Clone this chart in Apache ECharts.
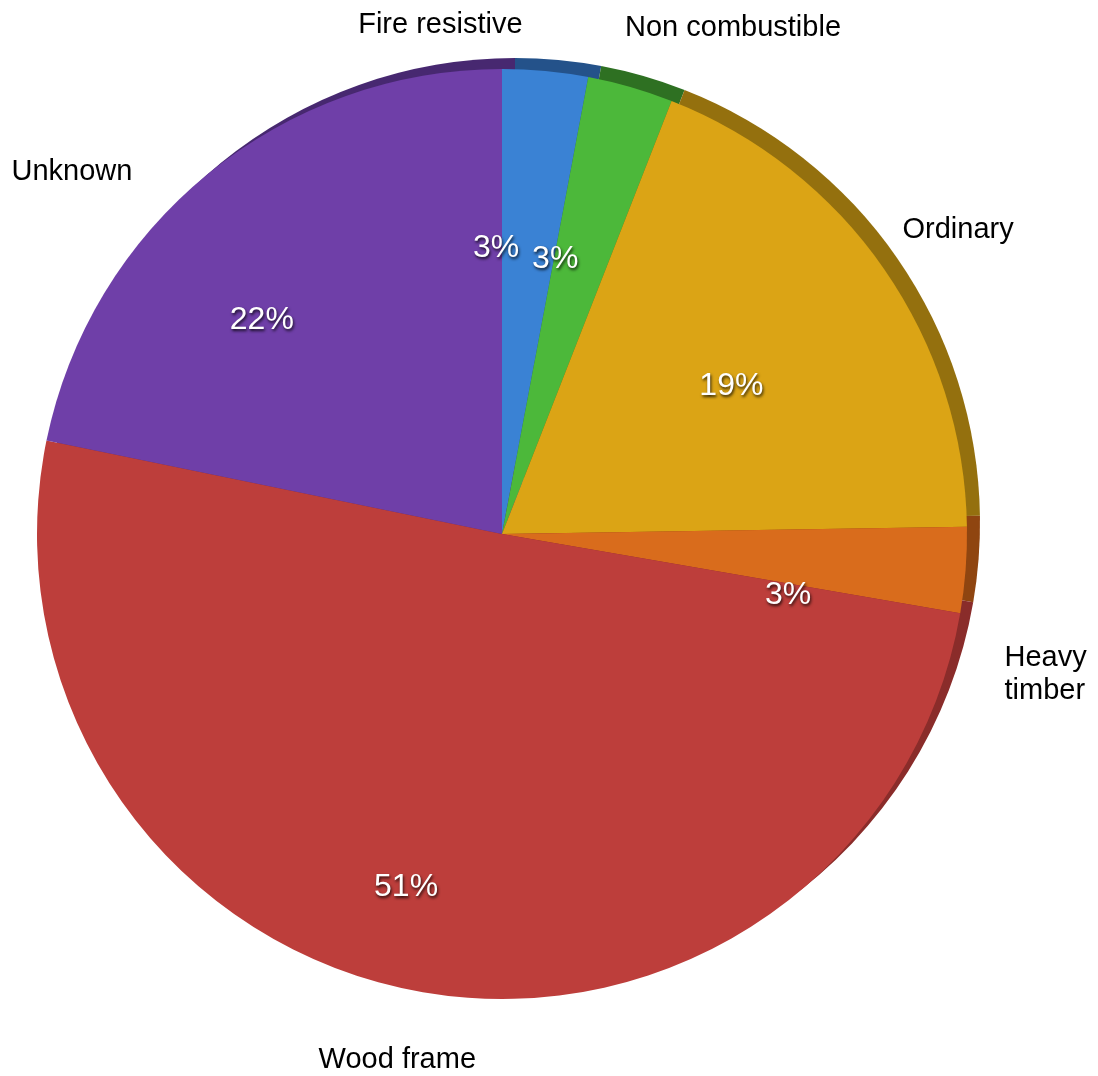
<!DOCTYPE html>
<html><head><meta charset="utf-8">
<script src="https://cdn.jsdelivr.net/npm/echarts@6/dist/echarts.min.js"></script>
<style>html,body{margin:0;padding:0;background:#fff}#c{width:1098px;height:1076px}</style>
</head><body><div id="c"></div>
<script>
const categories = ['Fire resistive', 'Non combustible', 'Ordinary', 'Heavy timber', 'Wood frame', 'Unknown'];
const labelTexts = ['Fire resistive', 'Non combustible', 'Ordinary', 'Heavy\ntimber', 'Wood frame', 'Unknown'];
const percents = [3, 3, 19, 3, 51, 22];
const faceColors = ['#3a82d4', '#4cb83a', '#dba415', '#d96c1c', '#bd3e3b', '#6f3fa8'];
const rimColors = ['#24528a', '#2e7022', '#94700e', '#8f4510', '#8a2c2a', '#472870'];
// small nudges applied to the library-placed outside labels
const labelNudges = [[-194, -26], [-16, -40], [-3, -28], [14, 103], [69, 49], [-58, 14]];

const CENTER = [502, 534];
const RIM_CENTER = [515, 523];
const PCT_CENTER = [466, 570];
const R = 465;
const FONT = '"Liberation Sans", Arial, Helvetica, sans-serif';

function buildData(colors) {
  return categories.map((name, i) => ({ name, value: percents[i], itemStyle: { color: colors[i] } }));
}

const chart = echarts.init(document.getElementById('c'), null, { renderer: 'canvas' });
chart.setOption({
  animation: false,
  backgroundColor: '#ffffff',
  series: [
    {
      type: 'pie', name: 'rim', center: RIM_CENTER, radius: R, startAngle: 90, clockwise: true,
      silent: true, z: 1, label: { show: false }, labelLine: { show: false },
      data: buildData(rimColors)
    },
    {
      type: 'pie', name: 'face', center: CENTER, radius: R, startAngle: 90, clockwise: true,
      silent: true, z: 2, avoidLabelOverlap: false,
      itemStyle: { borderWidth: 0 },
      label: {
        show: true, position: 'outside', color: '#000', fontFamily: FONT, fontSize: 29, lineHeight: 33,
        formatter: p => labelTexts[p.dataIndex]
      },
      labelLine: { show: false, length: 20, length2: 0 },
      labelLayout: p => ({ hideOverlap: false, moveOverlap: false, dx: labelNudges[p.dataIndex][0], dy: labelNudges[p.dataIndex][1] }),
      data: buildData(faceColors)
    },
    {
      type: 'pie', name: 'pct', center: PCT_CENTER, radius: [0, 640], startAngle: 90, clockwise: true,
      silent: true, z: 3,
      itemStyle: { color: 'rgba(0,0,0,0)', borderWidth: 0 },
      label: {
        show: true, position: 'inside', rotate: 0, color: '#fff', fontFamily: FONT, fontSize: 32,
        textShadowColor: 'rgba(0,0,0,0.8)', textShadowBlur: 3, textShadowOffsetX: 1, textShadowOffsetY: 2,
        formatter: p => p.value + '%'
      },
      labelLine: { show: false },
      data: categories.map((name, i) => ({ name, value: percents[i] }))
    }
  ]
});
</script></body></html>
